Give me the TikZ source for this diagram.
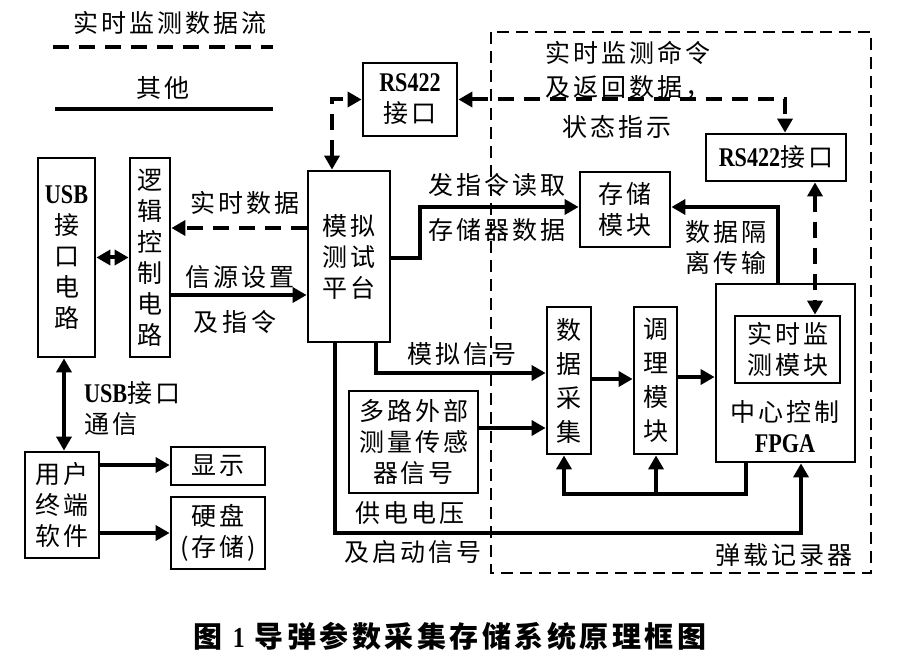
\documentclass[tikz,border=0pt]{standalone}
\usepackage{fontspec}
\setmainfont{Liberation Serif}
\newfontfamily\cjk[LetterSpace=12]{Noto Sans CJK SC}
\newfontfamily\latfont[FakeStretch=0.82]{Liberation Serif}
\usetikzlibrary{arrows.meta, positioning, calc}
\newcommand{\eng}[1]{{\latfont\bfseries\fontsize{13.5}{15.5}\selectfont #1}}

\begin{document}
\begin{tikzpicture}[
  x=0.5pt, y=-0.5pt,
  font=\cjk\fontsize{12.5}{15.5}\selectfont,
  box/.style={draw, line width=1.4pt, align=center, inner sep=0pt},
  tallbox/.style={box, font=\cjk\fontsize{12.5}{17}\selectfont},
  arr/.style={line width=2pt, -{Triangle[length=7pt,width=7.5pt]}},
  biarr/.style={line width=2pt, {Triangle[length=7pt,width=7.5pt]}-{Triangle[length=7pt,width=7.5pt]}},
  dashline/.style={line width=2pt, dash pattern=on 8pt off 5pt},
  frame/.style={line width=1.2pt, dash pattern=on 6pt off 3.5pt}
]
  \useasboundingbox (0,0) rectangle (897,667);

  % legend
  \node (lgflow) at (170,23) {实时监测数据流};
  \coordinate (lgA) at (53,47);
  \coordinate (lgB) at (273,47);
  \draw[dashline] (lgA) -- (lgB);
  \node (lgother) at (163,88) {其他};
  \coordinate (lgC) at (55,109);
  \coordinate (lgD) at (273,109);
  \draw[line width=2pt] (lgC) -- (lgD);

  % ground side
  \node[box, minimum width=28.5pt, minimum height=99.5pt] (usb) at (66.5,257.5) {\eng{USB}\\接\\口\\电\\路};
  \node[box, minimum width=20pt, minimum height=99.5pt] (logic) at (150,257.5) {逻\\辑\\控\\制\\电\\路};
  \node[box, minimum width=41pt, minimum height=85.5pt] (platform) at (349,256.5) {模拟\\测试\\平台};
  \node[box, minimum width=47pt, minimum height=36.5pt] (rsA) at (410,99.5) {\eng{RS422}\\接口};
  \node[box, minimum width=37pt, minimum height=53pt] (user) at (62,505) {用户\\终端\\软件};
  \node[box, minimum width=47pt, minimum height=19pt] (disp) at (218,466) {显示};
  \node[box, minimum width=47pt, minimum height=36pt] (disk) at (218,533) {硬盘\\(存储)};
  \node[box, minimum width=64.5pt, minimum height=51pt] (sensor) at (413.5,442) {多路外部\\测量传感\\器信号};

  % recorder
  \draw[frame] (491,32) rectangle (871,573);
  \node[box, minimum width=70pt, minimum height=23.5pt] (rsB) at (776,157.5) {\eng{RS422}接口};
  \node[box, minimum width=45pt, minimum height=37.5pt] (store) at (625,209.5) {存储\\模块};
  \node[box, minimum width=69.5pt, minimum height=89pt] (fpga) at (785.5,373) {};
  \node[box, minimum width=52.5pt, minimum height=33.5pt] (monitor) at (787.5,349.5) {实时监\\测模块};
  \node[align=center] (fpgalabel) at (785,427) {中心控制\\\eng{FPGA}};
  \node[tallbox, minimum width=22pt, minimum height=73.5pt] (acq) at (569,380.5) {数\\据\\采\\集};
  \node[tallbox, minimum width=21.5pt, minimum height=73.5pt] (cond) at (655.5,380.5) {调\\理\\模\\块};

  % labels
  \node (lbRealtime) at (245,203) {实时数据};
  \node (lbSetup) at (240,277) {信源设置};
  \node (lbCmd) at (235,322) {及\,指\,令};
  \node (lbRead) at (497,185) {发指令读取};
  \node (lbMem) at (497,230) {存储器数据};
  \node[anchor=west] (lbMonCmd) at (538,53) {实时监测命令};
  \node[anchor=west] (lbRet) at (538,87) {及返回数据，};
  \node[anchor=west] (lbState) at (555,127) {状态指示};
  \node[align=left] (lbIso) at (726,247) {数据隔\\离传输};
  \node (lbAnalog) at (462,354) {模拟信号};
  \node (lbPower) at (410,513) {供电电压};
  \node (lbStart) at (413,552) {及启动信号};
  \node[anchor=west, align=left] (lbUsb) at (77,409) {\eng{USB}接口\\通信};
  \node (lbRec) at (784,555) {弹载记录器};
  \node[font=\cjk\bfseries\fontsize{14.5}{16}\selectfont] (caption) at (450,636) {图 {\latfont\bfseries 1} 导弹参数采集存储系统原理框图};

  % real-time monitoring links
  \draw[dashline, biarr] ([xshift=-8.5pt]platform.north) |- (rsA.west);
  \draw[dashline, biarr] (rsA.east) -| ([xshift=4.5pt]rsB.north);
  \draw[dashline, biarr] (rsB.south -| 815,0) -- (monitor.north -| 815,0);
  \draw[dashline, arr] (platform.west |- 0,228) -- (logic.east |- 0,228);

  % other links
  \draw[biarr] (usb.east) -- (logic.west);
  \draw[arr] (logic.east |- 0,295) -- (platform.west |- 0,295);
  \draw[arr] (platform.east |- 0,258) -- ++(29,0) |- (store.west |- 0,207);
  \draw[arr] (fpga.north -| 778,0) |- (store.east |- 0,207);
  \draw[arr] (platform.south -| 376,0) |- (acq.west |- 0,373);
  \draw[arr] (sensor.east |- 0,428) -- (acq.west |- 0,428);
  \draw[arr] (acq.east |- 0,379) -- (cond.west |- 0,379);
  \draw[arr] (cond.east |- 0,377) -- (fpga.west |- 0,377);
  \coordinate (fb) at (656,494);
  \draw[arr] (fpga.south -| 746,0) |- (fb) -| (acq.south -| 564,0);
  \draw[arr] (fb) -- (cond.south -| fb);
  \coordinate (pw) at (801,533);
  \draw[arr] (platform.south -| 335,0) |- (pw) -- (fpga.south -| pw);
  \draw[biarr] (usb.south -| 64,0) -- (user.north -| 64,0);
  \draw[arr] (user.east |- 0,465) -- (disp.west |- 0,465);
  \draw[arr] (user.east |- 0,533) -- (disk.west |- 0,533);
\end{tikzpicture}
\end{document}
